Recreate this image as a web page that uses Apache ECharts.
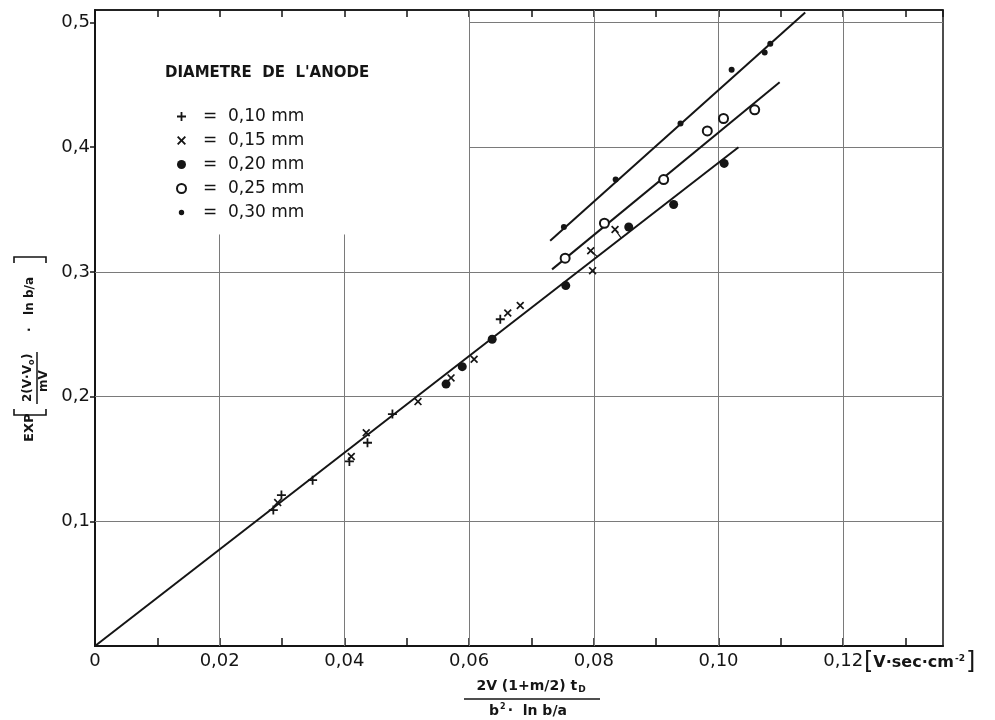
<!DOCTYPE html>
<html>
<head>
<meta charset="utf-8">
<script src="https://cdn.jsdelivr.net/npm/echarts@6/dist/echarts.min.js"></script>
<style>
  html, body { margin: 0; padding: 0; background: #fff; }
  #chart { width: 995px; height: 720px; }
</style>
</head>
<body>
<div id="chart"></div>
<script>
// values: [x, y]
const diameters = ['0,10 mm', '0,15 mm', '0,20 mm', '0,25 mm', '0,30 mm'];
const pts010 = [[0.0286, 0.109], [0.0299, 0.121], [0.0349, 0.133], [0.0408, 0.148], [0.0437, 0.163], [0.0477, 0.186], [0.0650, 0.262]];
const pts015 = [[0.0293, 0.115], [0.0411, 0.152], [0.0435, 0.171], [0.0518, 0.196], [0.0571, 0.215], [0.0608, 0.230], [0.0662, 0.267], [0.0682, 0.273], [0.0795, 0.317], [0.0798, 0.301], [0.0834, 0.334]];
const pts020 = [[0.0563, 0.210], [0.0589, 0.224], [0.0637, 0.246], [0.0755, 0.289], [0.0856, 0.336], [0.0928, 0.354], [0.1009, 0.387]];
const pts025 = [[0.0754, 0.311], [0.0817, 0.339], [0.0912, 0.374], [0.0982, 0.413], [0.1008, 0.423], [0.1058, 0.430]];
const pts030 = [[0.0752, 0.336], [0.0835, 0.374], [0.0939, 0.419], [0.1021, 0.462], [0.1074, 0.476], [0.1083, 0.483]];

// fitted straight lines
const fitLow = [[0, 0], [0.1032, 0.400]];
const fitMid = [[0.0733, 0.302], [0.1098, 0.452]];
const fitTop = [[0.0730, 0.325], [0.1139, 0.508]];
// little leader strokes tying two x marks to the low line
const leader1 = [[0.0795, 0.317], [0.0806, 0.312]];
const leader2 = [[0.0834, 0.334], [0.0844, 0.327]];

const xMax = 0.136;
const yMax = 0.510;

// grid lines are left out behind the legend block: [value, from, to]
const gridX = [[0.02, 0, 0.33], [0.04, 0, 0.33], [0.06, 0, yMax], [0.08, 0, yMax], [0.10, 0, yMax], [0.12, 0, yMax]];
const gridY = [[0.1, 0, xMax], [0.2, 0, xMax], [0.3, 0, xMax], [0.4, 0.06, xMax], [0.5, 0.06, xMax]];

const INK = '#151515';
const GRID = '#7a7a7a';
const FONT = 'DejaVu Sans';
const PLUS = 'path://M4,0H6V4H10V6H6V10H4V6H0V4H4Z';
const CROSS = 'path://M0,1.5L1.5,0L5,3.5L8.5,0L10,1.5L6.5,5L10,8.5L8.5,10L5,6.5L1.5,10L0,8.5L3.5,5Z';
const SMALLDOT = 'path://M0,0M10,10M5,2A3,3 0 1 1 5,8A3,3 0 1 1 5,2Z';

const comma = (v, d) => v.toFixed(d).replace('.', ',');

function pointSeries(name, data, symbol, size, style) {
  return {
    name: name,
    type: 'scatter',
    data: data,
    symbol: symbol,
    symbolSize: size,
    itemStyle: Object.assign({ color: INK, opacity: 1 }, style || {}),
    z: 5
  };
}

function fitSeries(data, width) {
  return {
    type: 'line',
    data: data,
    symbol: 'none',
    silent: true,
    lineStyle: { color: INK, width: width || 2 },
    z: 4
  };
}

const gridSegments = gridX.map(g => ({ coords: [[g[0], g[1]], [g[0], g[2]]] }))
  .concat(gridY.map(g => ({ coords: [[g[1], g[0]], [g[2], g[0]]] })));

const chart = echarts.init(document.getElementById('chart'));

chart.setOption({
  animation: false,
  backgroundColor: '#fff',
  title: {
    text: 'DIAMETRE  DE  L\'ANODE',
    left: 165,
    top: 66,
    padding: 0,
    textStyle: { fontFamily: FONT, fontSize: 15, fontWeight: 'bold', color: INK }
  },
  legend: {
    orient: 'vertical',
    left: 176,
    top: 108,
    padding: 0,
    itemWidth: 9,
    itemHeight: 9,
    itemGap: 7,
    data: [
      { name: diameters[0], icon: PLUS },
      { name: diameters[1], icon: CROSS },
      { name: diameters[2], icon: 'circle' },
      { name: diameters[3], icon: 'emptyCircle' },
      { name: diameters[4], icon: SMALLDOT }
    ],
    formatter: n => '=  ' + n,
    textStyle: { fontFamily: FONT, fontSize: 17, color: INK, padding: [0, 0, 0, 12] }
  },
  grid: {
    show: true,
    left: 95,
    right: 52,
    top: 10,
    bottom: 74,
    borderColor: INK,
    borderWidth: 1.5
  },
  xAxis: [
    {
      type: 'value',
      min: 0,
      max: xMax,
      interval: 0.01,
      axisLine: { show: true, lineStyle: { color: INK, width: 2 } },
      axisTick: { show: true, inside: true, length: 8, lineStyle: { color: INK, width: 1.5 } },
      axisLabel: {
        showMaxLabel: false,
        margin: 6,
        color: INK,
        fontFamily: FONT,
        fontSize: 18,
        formatter: v => {
          const k = Math.round(v * 100);
          if (k % 2 !== 0) return '';
          return k === 0 ? '0' : comma(v, 2);
        }
      },
      splitLine: { show: false }
    },
    {
      type: 'value',
      position: 'top',
      min: 0,
      max: xMax,
      interval: 0.01,
      axisLine: { show: true, lineStyle: { color: INK, width: 1.5 } },
      axisTick: { show: true, inside: true, length: 7, lineStyle: { color: INK, width: 1.5 } },
      axisLabel: { show: false },
      splitLine: { show: false }
    }
  ],
  yAxis: {
    type: 'value',
    min: 0,
    max: yMax,
    interval: 0.1,
    axisLine: { show: true, lineStyle: { color: INK, width: 2 } },
    axisTick: { show: true, inside: false, length: 5, lineStyle: { color: INK, width: 1.5 } },
    axisLabel: {
      showMinLabel: false,
      showMaxLabel: false,
      margin: 5,
      color: INK,
      fontFamily: FONT,
      fontSize: 18,
      formatter: v => comma(v, 1)
    },
    splitLine: { show: false }
  },
  series: [
    {
      type: 'lines',
      coordinateSystem: 'cartesian2d',
      silent: true,
      data: gridSegments,
      lineStyle: { color: GRID, width: 1, opacity: 1 },
      z: 1
    },
    fitSeries(fitLow, 2),
    fitSeries(fitMid, 2),
    fitSeries(fitTop, 2),
    fitSeries(leader1, 1.2),
    fitSeries(leader2, 1.2),
    pointSeries(diameters[0], pts010, PLUS, 9),
    pointSeries(diameters[1], pts015, CROSS, 8),
    pointSeries(diameters[2], pts020, 'circle', 9),
    pointSeries(diameters[3], pts025, 'emptyCircle', 9, { borderColor: INK, borderWidth: 1.6 }),
    pointSeries(diameters[4], pts030, 'circle', 6)
  ],
  graphic: [
    // y axis title, read bottom to top
    {
      type: 'group',
      x: 30,
      y: 442,
      rotation: Math.PI / 2,
      children: [
        { type: 'text', x: 0, y: 0, style: { text: 'EXP', font: 'bold 13px "DejaVu Sans"', fill: INK, verticalAlign: 'middle' } },
        { type: 'polyline', shape: { points: [[33, -16], [27, -16], [27, 16], [33, 16]] }, style: { stroke: INK, lineWidth: 1.6, fill: null } },
        { type: 'text', x: 40, y: -2, style: { text: '2(V·V', font: 'bold 12px "DejaVu Sans"', fill: INK, verticalAlign: 'middle' } },
        { type: 'text', x: 77, y: 2, style: { text: 'o', font: 'bold 8px "DejaVu Sans"', fill: INK, verticalAlign: 'middle' } },
        { type: 'text', x: 83, y: -2, style: { text: ')', font: 'bold 12px "DejaVu Sans"', fill: INK, verticalAlign: 'middle' } },
        { type: 'line', shape: { x1: 38, y1: 7, x2: 90, y2: 7 }, style: { stroke: INK, lineWidth: 1.5 } },
        { type: 'text', x: 50, y: 14, style: { text: 'mV', font: 'bold 12px "DejaVu Sans"', fill: INK, verticalAlign: 'middle' } },
        { type: 'text', x: 110, y: 0, style: { text: '·   ln b/a', font: 'bold 12px "DejaVu Sans"', fill: INK, verticalAlign: 'middle' } },
        { type: 'polyline', shape: { points: [[179, -16], [185, -16], [185, 16], [179, 16]] }, style: { stroke: INK, lineWidth: 1.6, fill: null } }
      ]
    },
    // x axis title as a fraction
    {
      type: 'text',
      x: 531,
      y: 686,
      style: {
        text: '{n|2V (1+m/2) t}{s|D}',
        rich: {
          n: { font: 'bold 14px "DejaVu Sans"', fill: INK },
          s: { font: 'bold 9px "DejaVu Sans"', fill: INK, padding: [8, 0, 0, 1] }
        },
        align: 'center',
        verticalAlign: 'middle'
      }
    },
    { type: 'line', shape: { x1: 464, y1: 699, x2: 600, y2: 699 }, style: { stroke: INK, lineWidth: 1.5 } },
    {
      type: 'text',
      x: 528,
      y: 711,
      style: {
        text: '{n|b}{p|2}{n|·  ln b/a}',
        rich: {
          n: { font: 'bold 14px "DejaVu Sans"', fill: INK },
          p: { font: 'bold 8px "DejaVu Sans"', fill: INK, padding: [0, 2, 8, 1] }
        },
        align: 'center',
        verticalAlign: 'middle'
      }
    },
    // unit after the last tick label
    {
      type: 'text',
      x: 864,
      y: 663,
      style: {
        text: '{b|[}{n|V·sec·cm}{p|-2}{b|]}',
        rich: {
          b: { font: '24px "DejaVu Sans"', fill: INK },
          n: { font: 'bold 16px "DejaVu Sans"', fill: INK },
          p: { font: 'bold 9px "DejaVu Sans"', fill: INK, padding: [0, 1, 9, 1] }
        },
        verticalAlign: 'middle'
      }
    }
  ]
});
</script>
</body>
</html>
